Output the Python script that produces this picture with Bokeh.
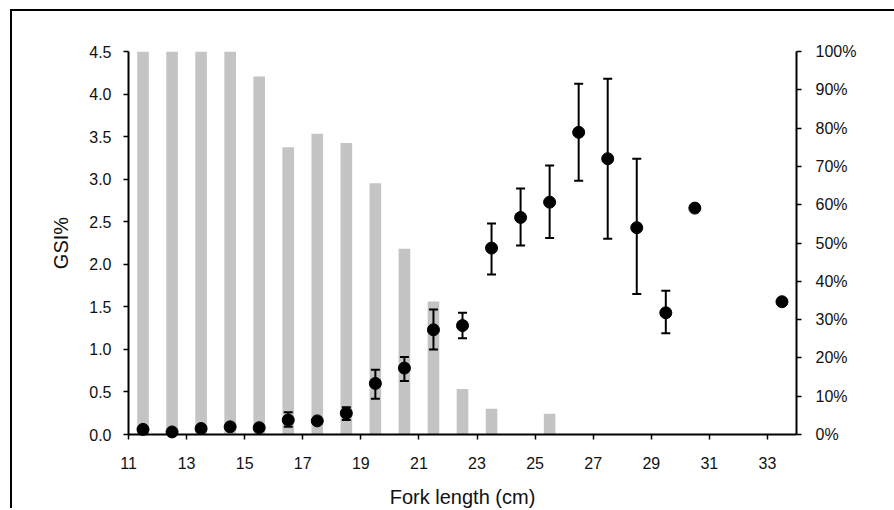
from bokeh.plotting import figure
from bokeh.models import (Range1d, LinearAxis, FixedTicker, NumeralTickFormatter,
                          PrintfTickFormatter, ColumnDataSource, Whisker, TeeHead)
from bokeh.embed import file_html
from bokeh.resources import INLINE

# Maturity (% immature) bars, right axis
bar_x = [11.5, 12.5, 13.5, 14.5, 15.5, 16.5, 17.5, 18.5, 19.5, 20.5, 21.5, 22.5, 23.5, 25.5]
bar_pct = [100, 100, 100, 100, 93.5, 75.0, 78.5, 76.1, 65.6, 48.5, 34.7, 11.9, 6.7, 5.4]

# GSI mean points, left axis
gsi_x = [11.5, 12.5, 13.5, 14.5, 15.5, 16.5, 17.5, 18.5, 19.5, 20.5, 21.5, 22.5,
         23.5, 24.5, 25.5, 26.5, 27.5, 28.5, 29.5, 30.5, 33.5]
gsi_mean = [0.06, 0.03, 0.07, 0.09, 0.08, 0.17, 0.16, 0.25, 0.60, 0.78, 1.23, 1.28,
            2.19, 2.55, 2.73, 3.55, 3.24, 2.43, 1.43, 2.66, 1.56]

# Error bars
err_x = [16.5, 18.5, 19.5, 20.5, 21.5, 22.5, 23.5, 24.5, 25.5, 26.5, 27.5, 28.5, 29.5]
err_hi = [0.26, 0.32, 0.76, 0.91, 1.47, 1.43, 2.48, 2.89, 3.16, 4.12, 4.18, 3.24, 1.69]
err_lo = [0.09, 0.17, 0.42, 0.63, 1.00, 1.13, 1.88, 2.22, 2.31, 2.98, 2.30, 1.65, 1.19]

x_ticks = [11, 13, 15, 17, 19, 21, 23, 25, 27, 29, 31, 33]
y_ticks = [0, 0.5, 1.0, 1.5, 2.0, 2.5, 3.0, 3.5, 4.0, 4.5]
pct_ticks = [0, 10, 20, 30, 40, 50, 60, 70, 80, 90, 100]

FONT = "Liberation Sans"

p = figure(width=884, height=499, output_backend="svg", toolbar_location=None,
           x_range=Range1d(11, 34), y_range=Range1d(0, 4.5),
           min_border_left=116, min_border_right=100, min_border_top=40,
           min_border_bottom=76)
p.styles = {"border-left": "2px solid black", "border-top": "2px solid black",
            "margin-left": "10px", "margin-top": "9px"}
p.outline_line_color = None
p.xgrid.visible = False
p.ygrid.visible = False
p.extra_y_ranges = {"pct": Range1d(0, 100)}

bars = ColumnDataSource(dict(x=bar_x, top=bar_pct))
p.vbar(x="x", top="top", bottom=0, width=0.4, source=bars, y_range_name="pct",
       fill_color="#c4c4c4", line_color=None, level="underlay")

err = ColumnDataSource(dict(x=err_x, hi=err_hi, lo=err_lo))
w = Whisker(base="x", upper="hi", lower="lo", source=err, line_color="black", line_width=2,
            upper_head=TeeHead(size=9, line_width=2, line_color="black"),
            lower_head=TeeHead(size=9, line_width=2, line_color="black"),
            level="glyph")
p.add_layout(w)

pts = ColumnDataSource(dict(x=gsi_x, y=gsi_mean))
p.scatter(x="x", y="y", source=pts, size=12, fill_color="black", line_color="black",
          level="overlay")

# Axes styling
def style(ax):
    ax.axis_line_color = "black"
    ax.axis_line_width = 2
    ax.major_tick_line_color = "black"
    ax.major_tick_line_width = 1.5
    ax.major_tick_out = 5
    ax.major_tick_in = 0
    ax.minor_tick_line_color = None
    ax.major_label_text_font = FONT
    ax.major_label_text_font_size = "16px"
    ax.major_label_text_color = "#111111"
    ax.axis_label_text_font = FONT
    ax.axis_label_text_font_size = "20px"
    ax.axis_label_text_font_style = "normal"
    ax.axis_label_text_color = "#111111"

xa = p.xaxis[0]
style(xa)
xa.ticker = FixedTicker(ticks=x_ticks)
xa.axis_label = "Fork length (cm)"
xa.major_label_standoff = 17
xa.axis_label_standoff = 14

ya = p.yaxis[0]
style(ya)
ya.ticker = FixedTicker(ticks=y_ticks)
ya.formatter = NumeralTickFormatter(format="0.0")
ya.axis_label = "GSI%"
ya.major_label_standoff = 12
ya.axis_label_standoff = 14

ra = LinearAxis(y_range_name="pct")
style(ra)
ra.ticker = FixedTicker(ticks=pct_ticks)
ra.formatter = PrintfTickFormatter(format="%d%%")
ra.major_label_standoff = 14
p.add_layout(ra, "right")

open("out.html", "w").write(file_html(p, INLINE))
